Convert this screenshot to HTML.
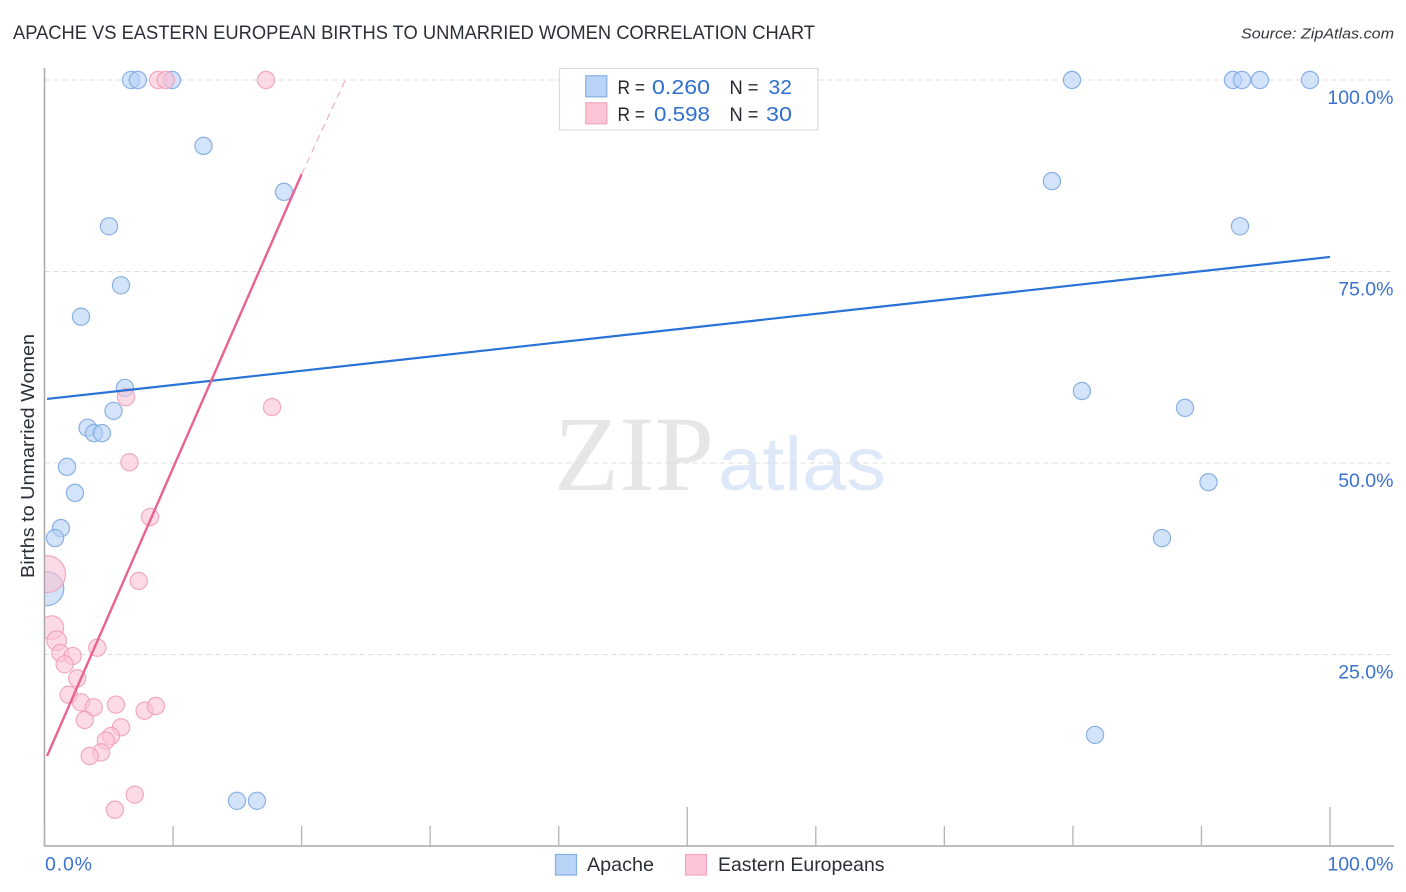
<!DOCTYPE html>
<html lang="en">
<head>
<meta charset="utf-8">
<title>Apache vs Eastern European Births to Unmarried Women Correlation Chart</title>
<style>
html,body{margin:0;padding:0;background:#fff;}
svg{display:block;font-family:"Liberation Sans",sans-serif;}
</style>
</head>
<body>
<svg id="chart" width="1406" height="892" viewBox="0 0 1406 892" xmlns="http://www.w3.org/2000/svg">
  <defs>
    <clipPath id="plot-clip"><rect x="44.5" y="60" width="1350" height="786"/></clipPath>
  </defs>
  <rect width="1406" height="892" fill="#fff"/>

  <text x="13" y="39" font-size="19" fill="#2b2f36" textLength="802" lengthAdjust="spacingAndGlyphs">APACHE VS EASTERN EUROPEAN BIRTHS TO UNMARRIED WOMEN CORRELATION CHART</text>
  <text x="1241" y="38.500" font-size="15" font-style="italic" fill="#33373d" textLength="153" lengthAdjust="spacingAndGlyphs">Source: ZipAtlas.com</text>

  <g>
    <text x="554" y="490" font-size="107" font-family="'Liberation Serif',serif" fill="#e6e6e6" textLength="160" lengthAdjust="spacingAndGlyphs">ZIP</text>
    <text x="718" y="490" font-size="76" fill="#dde8f8" textLength="168" lengthAdjust="spacingAndGlyphs">atlas</text>
  </g>

  <g id="grid"></g>
  <g id="marks" clip-path="url(#plot-clip)"></g>
  <rect x="0" y="540" width="44.500" height="110" fill="#fff"/>
  <g id="axes"></g>
  <g id="trends"></g>
  <g id="labels"></g>

  <text transform="translate(34 456) rotate(-90)" text-anchor="middle" font-size="18.500" fill="#2b2f36" textLength="244" lengthAdjust="spacingAndGlyphs">Births to Unmarried Women</text>

  <g>
    <rect x="559.500" y="68.500" width="258.500" height="61.500" fill="#fff" stroke="#dcdcdc" stroke-width="1.200"/>
    <rect x="585.800" y="75.800" width="21" height="21" fill="#b9d4f7" stroke="#85aee3" stroke-width="1.200"/>
    <rect x="585.800" y="102.800" width="21" height="21" fill="#fcc6d7" stroke="#f2a5bd" stroke-width="1.200"/>
    <text x="617.500" y="94" font-size="19.500" fill="#26292e" textLength="27.500" lengthAdjust="spacingAndGlyphs">R =</text>
    <text x="652" y="94" font-size="20.500" fill="#2f6fd0" textLength="58" lengthAdjust="spacingAndGlyphs">0.260</text>
    <text x="729.500" y="94" font-size="19.500" fill="#26292e" textLength="29" lengthAdjust="spacingAndGlyphs">N =</text>
    <text x="768.500" y="94" font-size="20.500" fill="#2f6fd0" textLength="23.500" lengthAdjust="spacingAndGlyphs">32</text>
    <text x="617.500" y="121" font-size="19.500" fill="#26292e" textLength="27.500" lengthAdjust="spacingAndGlyphs">R =</text>
    <text x="654" y="121" font-size="20.500" fill="#2f6fd0" textLength="56" lengthAdjust="spacingAndGlyphs">0.598</text>
    <text x="729.500" y="121" font-size="19.500" fill="#26292e" textLength="29" lengthAdjust="spacingAndGlyphs">N =</text>
    <text x="766" y="121" font-size="20.500" fill="#2f6fd0" textLength="26" lengthAdjust="spacingAndGlyphs">30</text>
  </g>

  <g>
    <rect x="555.500" y="854.500" width="21" height="20.500" fill="#b9d4f7" stroke="#85aee3" stroke-width="1.200"/>
    <text x="587" y="871" font-size="19.500" fill="#2b2f36" textLength="67" lengthAdjust="spacingAndGlyphs">Apache</text>
    <rect x="685.500" y="854.500" width="21" height="20.500" fill="#fcc6d7" stroke="#f2a5bd" stroke-width="1.200"/>
    <text x="718" y="871" font-size="19.500" fill="#2b2f36" textLength="166.500" lengthAdjust="spacingAndGlyphs">Eastern Europeans</text>
  </g>
</svg>
<script>
// Data (percent values)
const apacheX = [6.73,7.27,9.92,12.37,18.63,5.02,5.95,2.84,6.26,5.37,3.35,3.85,4.47,1.75,2.37,1.28,0.82,0.18,14.97,16.53,79.93,92.45,93.15,94.55,98.44,78.37,93.0,80.7,88.72,90.55,86.93,81.72];
const apacheY = [100,100,100,91.4,85.4,80.9,73.2,69.1,59.8,56.8,54.6,53.9,53.9,49.5,46.1,41.5,40.2,33.6,5.9,5.9,100,100,100,100,100,86.8,80.9,59.4,57.2,47.5,40.2,14.5];
const apacheWeight = [1,1,1,1,1,1,1,1,1,1,1,1,1,1,1,1,1,3.9,1,1,1,1,1,1,1,1,1,1,1,1,1,1];

const easternX = [8.21,7.33,0.2,0.56,0.95,1.23,2.19,1.57,2.55,4.11,1.88,2.84,3.83,5.56,7.79,8.67,3.13,5.95,5.17,4.78,4.4,3.52,7.02,5.48,8.83,9.43,17.23,6.34,17.7,6.61];
const easternY = [42.95,34.6,35.5,28.5,26.8,25.2,24.8,23.72,21.89,25.89,19.75,18.76,18.11,18.45,17.66,18.28,16.45,15.5,14.36,13.75,12.23,11.75,6.7,4.74,100,100,100,58.6,57.3,50.1];
const easternWeight = [1,1,4.6,1.9,1.3,1,1,1,1,1,1,1,1,1,1,1,1,1,1,1,1,1,1,1,1,1,1,1,1,1];

const apacheTrendX = [0.2,100];
const apacheTrendY = [58.36,76.9];
const easternTrendX = [0.2,20.0];
const easternTrendY = [11.75,87.7];
const easternDashX = [20.0,23.4];
const easternDashY = [87.7,100];

const xTicks = [0,10,20,30,40,50,60,70,80,90,100];
const xMajorTicks = [50,100];
const yGridTicks = [25,50,75,100];
const yTickLabels = ['25.0%','50.0%','75.0%','100.0%'];
const xEndValues = [0,100];
const xEndLabels = ['0.0%','100.0%'];

// Axis functions
const xScale = v => 44.5 + v * 12.855;
const yScale = v => 846 - v * 7.66;
const NS = 'http://www.w3.org/2000/svg';

function make(parent, tag, attrs) {
  const el = document.createElementNS(NS, tag);
  for (const k in attrs) el.setAttribute(k, attrs[k]);
  parent.appendChild(el);
  return el;
}

const gridG = document.getElementById('grid');
const axesG = document.getElementById('axes');
const marksG = document.getElementById('marks');
const trendsG = document.getElementById('trends');
const labelsG = document.getElementById('labels');

yGridTicks.forEach(t => {
  const line = make(gridG, 'line', {x1: 44.5, x2: 1394, y1: yScale(t), y2: yScale(t), stroke: '#d9dce0', 'stroke-width': 1, 'stroke-dasharray': '5 4'});
  
  
});

const yAxis = make(axesG, 'line', {x1: 44.5, x2: 44.5, y1: 68, y2: 846, stroke: '#a8a8a8', 'stroke-width': 1.5});


const xAxis = make(axesG, 'line', {x1: 44, x2: 1394, y1: 846, y2: 846, stroke: '#a8a8a8', 'stroke-width': 1.5});



xTicks.forEach(t => {
  const top = xMajorTicks.includes(t) ? 807 : 826;
  const tick = make(axesG, 'line', {x1: xScale(t), x2: xScale(t), y1: top, y2: 846, stroke: '#b4b4b4', 'stroke-width': 1.3});
  
  
});

function drawSeries(xs, ys, weights, fill, stroke, name) {
  xs.forEach((x, i) => {
    const c = make(marksG, 'circle', {cx: xScale(x), cy: yScale(ys[i]), r: 8.6 * Math.sqrt(weights[i]), fill: fill, 'fill-opacity': 0.6, stroke: stroke, 'stroke-opacity': 0.9, 'stroke-width': 1.2});
    
    
  });
}
drawSeries(apacheX, apacheY, apacheWeight, '#b5d1f6', '#7eaae2', 'apache');
drawSeries(easternX, easternY, easternWeight, '#fbc3d5', '#f0a0ba', 'eastern-europeans');

const blueTrend = make(trendsG, 'line', {x1: xScale(apacheTrendX[0]), y1: yScale(apacheTrendY[0]), x2: xScale(apacheTrendX[1]), y2: yScale(apacheTrendY[1]), stroke: '#2a72d6', 'stroke-width': 2.2});


const pinkTrend = make(trendsG, 'line', {x1: xScale(easternTrendX[0]), y1: yScale(easternTrendY[0]), x2: xScale(easternTrendX[1]), y2: yScale(easternTrendY[1]), stroke: '#ea6291', 'stroke-width': 2.4});


const pinkDash = make(trendsG, 'line', {x1: xScale(easternDashX[0]), y1: yScale(easternDashY[0]), x2: xScale(easternDashX[1]), y2: yScale(easternDashY[1]), stroke: '#f08fb0', 'stroke-width': 0.8, 'stroke-dasharray': '7 5'});



yGridTicks.forEach((t, i) => {
  const label = make(labelsG, 'text', {x: 1393.5, y: yScale(t) + 24, 'text-anchor': 'end', 'font-size': 19.5, fill: '#3b72cf'});
  label.textContent = yTickLabels[i];
  
  
});

xEndValues.forEach((t, i) => {
  const anchorX = t === 0 ? 45 : 1393.5;
  const label = make(labelsG, 'text', {x: anchorX, y: 870.5, 'text-anchor': t === 0 ? 'start' : 'end', 'font-size': 19.5, fill: '#3b72cf'});
  if (t === 0) label.setAttribute('textLength', '47');
  label.textContent = xEndLabels[i];
  
  
});
</script>
</body>
</html>
